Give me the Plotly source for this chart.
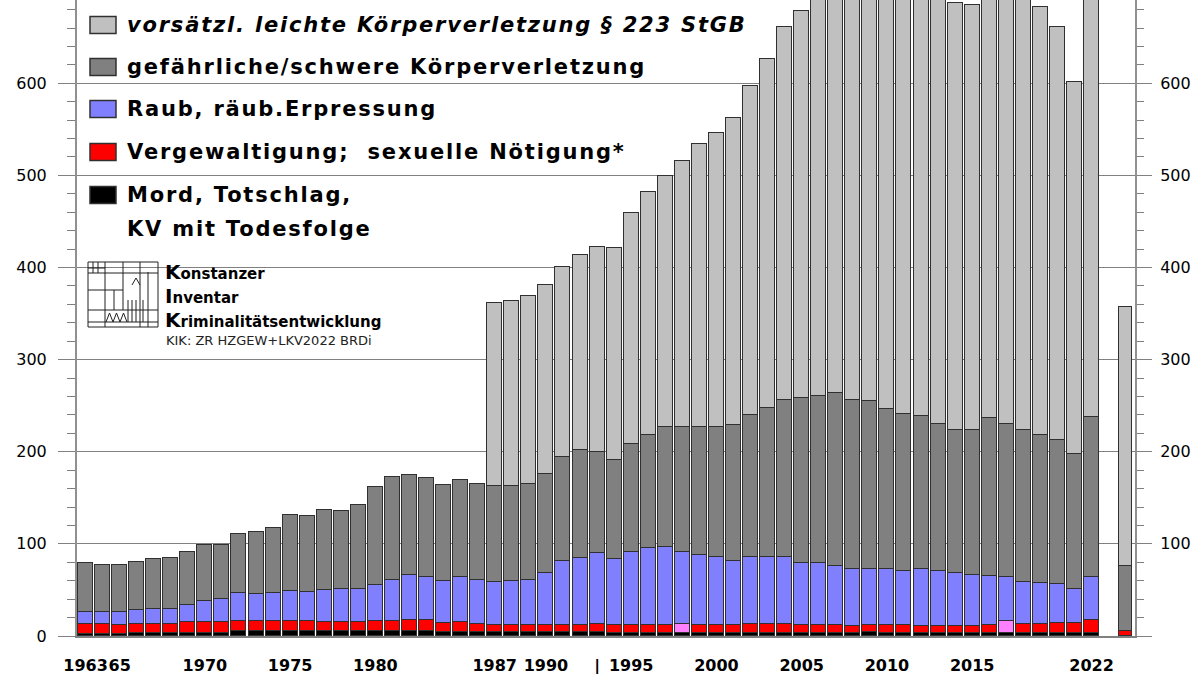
import plotly.graph_objects as go

years = list(range(1963, 2023))
extra_year = 2024

# cumulative tops (per 100,000 inhabitants)
top_mord = [2.5, 2.5, 2.5,
            3.6, 3.6, 3.6, 3.6, 3.6, 3.6,
            5, 5, 5, 5, 5, 5, 5, 5, 5, 5, 5, 5,
            4.4, 4.4, 4.4, 4.4, 4.4, 4.4, 4.4, 4.4, 4.4, 4.4,
            3.2, 3.2, 3.2, 3.2, 3.2, 3.2, 3.2, 3.2, 3.2, 3.2, 3.2, 3.2, 3.2, 3.2, 3.2,
            4.5,
            3, 3, 3, 3, 3, 3, 3, 3, 3, 3, 3, 3, 3]
top_verg = [13.5, 13.5, 12.4, 13.5, 13.5, 13.5, 14.9, 14.9, 14.9, 16.4,
            16.4, 16.4, 16.4, 16.4, 14.9, 14.9, 14.9, 16.4, 16.4, 17.1,
            17.1, 14.2, 15.3, 13.5, 12.4, 12.4, 12.4, 12.4, 12.4, 12.4,
            13.5, 12.4, 12.4, 12.4, 12.4, 13.5, 12.4, 12.4, 12.4, 13.5,
            13.5, 13.5, 12.4, 12.4, 12.4, 11.3, 12.4, 12.4, 12.4, 11.3,
            11.3, 11.3, 11.3, 12.4, 16.4, 13.5, 13.5, 14.5, 14.5, 17.5]
top_raub = [26.2, 26.2, 25.8, 28.7, 29.8, 29.8, 33.5, 37.5, 40, 46.2,
            45.1, 46.2, 48.7, 47.6, 49.8, 50.9, 50.9, 54.9, 61.1, 66,
            63.7, 59.8, 63.7, 61, 58.8, 59.8, 61, 68.8, 81, 84.6,
            89.6, 83.5, 90.9, 95.6, 97.1, 91.6, 88.4, 85.5, 81.8, 85.5,
            85.5, 85.5, 79.6, 78.9, 76, 72.4, 72.4, 72.4, 70.9, 72.4,
            70.9, 68.7, 66.2, 65.1, 63.6, 58.9, 57.8, 56, 51.3, 63.6]
top_gef = [78.9, 77.5, 77.5, 80, 83.6, 85.1, 91.3, 99.3, 99.3, 111,
           112.4, 117.4, 131.8, 130, 136.5, 135.8, 142.5, 162, 173, 175.2,
           171.2, 164.2, 169, 165, 163.3, 163.3, 165.5, 175.7, 194.2, 201.8,
           199.6, 191.6, 208.8, 218.6, 227.4, 227.4, 227.4, 227.4, 228.8, 239.8,
           247.3, 256.2, 258.4, 260.6, 264.2, 256.2, 254.9, 246, 240.7, 238.5,
           229.6, 223.9, 223.9, 236.3, 229.6, 223.9, 218.6, 212.8, 197.8, 237.2]
top_leicht = [None] * 24 + [
           361, 363.7, 368.6, 381.4, 400.9, 413.3,
           422, 420.8, 459.7, 481.9, 499.6, 515.9, 533.6, 546, 562.8, 596.9,
           626.5, 661, 678.8, 700, 712, 715, 712, 706, 700, 698,
           694, 686.7, 684.5, 700, 697, 693, 683.2, 661, 601.3, 710]
# separate bar at the right edge
extra_tops = dict(mord=0, verg=5, raub=5, gef=76, leicht=357)
pink_years = [1998, 2017]

x_ticks = [1963, 1965, 1970, 1975, 1980, 1987, 1990, 1993, 1995, 2000, 2005, 2010, 2015, 2022]
x_labels = ["1963", "65", "1970", "1975", "1980", "1987", "1990", "|", "1995", "2000", "2005", "2010", "2015", "2022"]

names = ["Mord, Totschlag, KV mit Todesfolge", "Vergewaltigung; sexuelle Nötigung*",
         "Raub, räub.Erpressung", "gefährliche/schwere Körperverletzung",
         "vorsätzl. leichte Körperverletzung § 223 StGB"]
colors = ["#000000", "#FF0000", "#8080FF", "#808080", "#C0C0C0"]


def seg(top, base):
    out = []
    for t, b in zip(top, base):
        if t is None:
            out.append(None)
        else:
            v = t - b
            out.append(v if v > 0 else None)
    return out


zeros = [0] * len(years)
seg_mord = seg(top_mord, zeros)
seg_verg = seg(top_verg, top_mord)
seg_raub = seg(top_raub, top_verg)
seg_gef = seg(top_gef, top_raub)
seg_leicht = seg(top_leicht, top_gef)

e = extra_tops
extra_segs = [e["mord"] or None, (e["verg"] - e["mord"]) or None, (e["raub"] - e["verg"]) or None,
              (e["gef"] - e["raub"]) or None, (e["leicht"] - e["gef"]) or None]

xs = years + [extra_year]
widths = [0.88] * len(years) + [0.76]

fig = go.Figure()
all_segs = [seg_mord, seg_verg, seg_raub, seg_gef, seg_leicht]
for i, s in enumerate(all_segs):
    col = colors[i]
    if i == 1:
        col = ["#FF80FF" if y in pink_years else "#FF0000" for y in years] + ["#FF0000"]
    fig.add_trace(go.Bar(
        x=xs, y=s + [extra_segs[i]], width=widths, name=names[i],
        marker=dict(color=col, line=dict(color="#303030", width=1)),
        hoverinfo="x+y+name"))

# invisible trace to activate right axis
fig.add_trace(go.Scatter(x=[2000], y=[0], yaxis="y2", mode="markers",
                         marker=dict(opacity=0), hoverinfo="skip", showlegend=False))

L, R, T, B = 77, 65, 0, 38
PW, PH = 1200 - L - R, 674 - T - B


def px(xp):
    return (xp - L) / PW


def py(yp):
    return (T + PH - yp) / PH


YMAX = 690.4
axis_font = dict(family="DejaVu Sans", size=16, color="black")

fig.update_layout(
    width=1200, height=674, margin=dict(l=L, r=R, t=T, b=B, autoexpand=False),
    paper_bgcolor="white", plot_bgcolor="white",
    barmode="stack", bargap=0, showlegend=False,
    xaxis=dict(range=[1962.5, 2024.55], tickmode="array", tickvals=x_ticks, ticktext=x_labels,
               ticks="", showgrid=False, zeroline=False, showline=True, automargin=False,
               linecolor="#808080", linewidth=2, tickangle=0,
               tickfont=dict(family="DejaVu Sans", size=16, color="black", weight="bold"),
               ticklabelstandoff=14),
    yaxis=dict(range=[0, YMAX], tickmode="linear", tick0=0, dtick=100, automargin=False,
               showgrid=True, gridcolor="#808080", gridwidth=1, zeroline=False,
               showline=True, linecolor="#909090", linewidth=2,
               ticks="outside", ticklen=17, tickcolor="#808080", tickwidth=1,
               minor=dict(dtick=20, ticks="outside", ticklen=8, tickcolor="#808080", showgrid=False),
               tickfont=axis_font, ticklabelstandoff=8),
    yaxis2=dict(overlaying="y", side="right", range=[0, YMAX], tickmode="linear", tick0=0, dtick=100,
                labelalias={"0": " "}, automargin=False,
                showgrid=False, zeroline=False, showline=True, linecolor="#909090", linewidth=2,
                ticks="outside", ticklen=15, tickcolor="#808080", tickwidth=1,
                minor=dict(dtick=20, ticks="outside", ticklen=7, tickcolor="#808080", showgrid=False),
                tickfont=axis_font, ticklabelstandoff=5),
)

# legend (boxes + text)
legend_items = [
    ("#C0C0C0", 25, "vorsätzl. leichte Körperverletzung § 223 StGB", True),
    ("#808080", 67, "gefährliche/schwere Körperverletzung", False),
    ("#8080FF", 109, "Raub, räub.Erpressung", False),
    ("#FF0000", 152, "Vergewaltigung;\u00a0 sexuelle Nötigung*", False),
    ("#000000", 195, "Mord, Totschlag,", False),
]
LEG_X = 125
LEG_SP = "letter-spacing:1.8px"
leg_font = dict(family="DejaVu Sans", size=21, color="black", weight="bold")
shapes = []
annotations = []
for col, yc, txt, ital in legend_items:
    shapes.append(dict(type="rect", xref="paper", yref="paper",
                       x0=px(90), x1=px(116), y0=py(yc - 8.5), y1=py(yc + 8.5),
                       fillcolor=col, line=dict(color="#303030", width=1.5), layer="above"))
    f = dict(leg_font)
    if ital:
        f["style"] = "italic"
    annotations.append(dict(xref="paper", yref="paper", x=px(LEG_X), y=py(yc), xanchor="left",
                            yanchor="middle", showarrow=False,
                            text=f"<span style='{LEG_SP}'>{txt}</span>", font=f))
annotations.append(dict(xref="paper", yref="paper", x=px(LEG_X), y=py(229), xanchor="left",
                        yanchor="middle", showarrow=False,
                        text=f"<span style='{LEG_SP}'>KV mit Todesfolge</span>", font=leg_font))

# KIK logo (line drawing)
logo_lines = [
    (88, 262, 158, 262), (88, 327, 158, 327), (88, 262, 88, 327), (158, 262, 158, 327),
    (105, 262, 105, 327), (123, 262, 123, 310), (140, 262, 140, 327), (148, 272, 148, 327),
    (88, 273, 158, 273), (88, 290, 123, 290), (88, 310, 158, 310), (88, 322, 158, 322),
    (93, 262, 93, 273), (98, 262, 98, 273), (88, 268, 105, 268),
    (114, 290, 114, 310), (128, 300, 128, 322), (132, 300, 132, 322), (136, 300, 136, 322),
    (143, 300, 143, 322), (132, 285, 136, 278), (136, 278, 140, 285),
]
for x0, y0, x1, y1 in logo_lines:
    shapes.append(dict(type="line", xref="paper", yref="paper", x0=px(x0), y0=py(y0),
                       x1=px(x1), y1=py(y1), line=dict(color="#202020", width=1), layer="above"))
for xa in (106, 113, 120):
    shapes.append(dict(type="path", xref="paper", yref="paper",
                       path=f"M {px(xa)} {py(322)} L {px(xa + 3.5)} {py(313)} L {px(xa + 7)} {py(322)}",
                       line=dict(color="#202020", width=1), layer="above"))

logo_font = dict(family="DejaVu Sans", size=15, color="black", weight="bold")
for yc, txt in [(272, "<span style='font-size:20px'>K</span>onstanzer"),
                (296, "<span style='font-size:20px'>I</span>nventar"),
                (320, "<span style='font-size:20px'>K</span>riminalitätsentwicklung")]:
    annotations.append(dict(xref="paper", yref="paper", x=px(163), y=py(yc), xanchor="left",
                            yanchor="middle", showarrow=False, text=txt, font=logo_font))
annotations.append(dict(xref="paper", yref="paper", x=px(164), y=py(340), xanchor="left",
                        yanchor="middle", showarrow=False, text="KIK: ZR HZGEW+LKV2022 BRDi",
                        font=dict(family="DejaVu Sans", size=13, color="#222222")))

fig.update_layout(shapes=shapes, annotations=annotations)
fig.write_html("out.html", config={"displayModeBar": False},
               post_script="document.body.style.margin='0px';document.body.style.overflow='hidden';")
